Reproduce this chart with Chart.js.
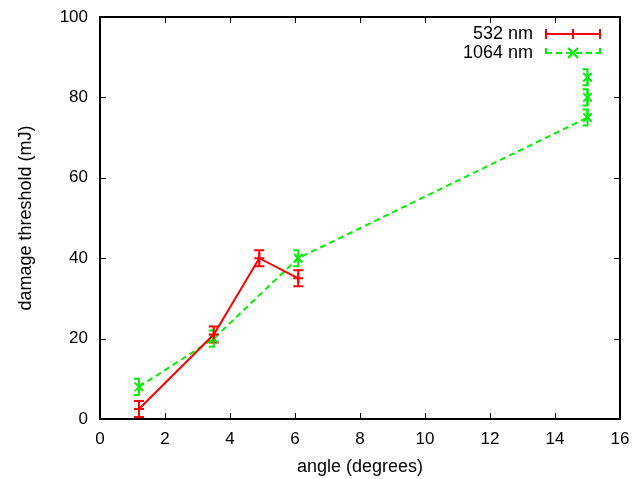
<!DOCTYPE html>
<html>
<head>
<meta charset="utf-8">
<script src="https://cdn.jsdelivr.net/npm/chart.js@4/dist/chart.umd.min.js"></script>
<style>
  body { margin: 0; background: #fff; }
  canvas { display: block; }
</style>
</head>
<body>
<canvas id="c" width="641" height="479"></canvas>
<script>
// data
var angles532 = [1.2, 3.5, 4.9, 6.1];
var thresh532 = [2.5, 21, 40, 35];
var err532 = [2, 2, 2, 2];

var angles1064 = [1.2, 3.5, 6.1, 15, 15, 15];
var thresh1064 = [8, 20, 40, 75, 80, 85];
var err1064 = [2, 2, 2, 2, 2, 2];

var xTicks = [0, 2, 4, 6, 8, 10, 12, 14, 16];
var yTicks = [0, 20, 40, 60, 80, 100];

var RED = 'rgb(255,0,0)';
var GREEN = 'rgb(0,238,0)';
var FONT = 'Liberation Sans, Arial, sans-serif';

function pts(xs, ys) {
    var out = [];
    for (var i = 0; i < xs.length; i++) out.push({ x: xs[i], y: ys[i] });
    return out;
}

// frame + inward ticks on all four sides (gnuplot style)
var framePlugin = {
    id: 'frame',
    afterDatasetsDraw: function(chart) {
        var ctx = chart.ctx, a = chart.chartArea;
        var xs = chart.scales.x, ys = chart.scales.y;
        ctx.save();
        ctx.strokeStyle = '#000';
        ctx.lineWidth = 1;
        xTicks.forEach(function(v) {
            var px = Math.round(xs.getPixelForValue(v)) + 0.5;
            ctx.beginPath();
            ctx.moveTo(px, a.bottom); ctx.lineTo(px, a.bottom - 6);
            ctx.moveTo(px, a.top); ctx.lineTo(px, a.top + 6);
            ctx.stroke();
        });
        yTicks.forEach(function(v) {
            var py = Math.round(ys.getPixelForValue(v)) + 0.5;
            ctx.beginPath();
            ctx.moveTo(a.left, py); ctx.lineTo(a.left + 6, py);
            ctx.moveTo(a.right, py); ctx.lineTo(a.right - 6, py);
            ctx.stroke();
        });
        ctx.lineWidth = 2;
        ctx.strokeRect(a.left, a.top, a.right - a.left, a.bottom - a.top);
        ctx.restore();
    }
};

// vertical error bars with caps
var errorPlugin = {
    id: 'errbars',
    beforeDatasetsDraw: function(chart) {
        var ctx = chart.ctx;
        var xs = chart.scales.x, ys = chart.scales.y;
        chart.data.datasets.forEach(function(ds) {
            ctx.save();
            ctx.strokeStyle = ds.borderColor;
            ctx.lineWidth = 2;
            ctx.setLineDash(ds.borderDash || []);
            ds.data.forEach(function(p, i) {
                var e = ds.errors[i];
                var px = xs.getPixelForValue(p.x);
                var lo = ys.getPixelForValue(p.y - e);
                var hi = ys.getPixelForValue(p.y + e);
                ctx.beginPath();
                ctx.moveTo(px, lo); ctx.lineTo(px, hi);
                ctx.moveTo(px - 5, lo); ctx.lineTo(px + 5, lo);
                ctx.moveTo(px - 5, hi); ctx.lineTo(px + 5, hi);
                ctx.stroke();
            });
            ctx.restore();
        });
    }
};

// legend inside top right
var legendPlugin = {
    id: 'keybox',
    afterDatasetsDraw: function(chart) {
        var ctx = chart.ctx;
        ctx.save();
        ctx.font = '18px ' + FONT;
        ctx.textAlign = 'right';
        ctx.textBaseline = 'middle';
        chart.data.datasets.forEach(function(ds, i) {
            var y = 34 + i * 19;
            ctx.fillStyle = '#000';
            ctx.fillText(ds.label, 533, y);
            ctx.strokeStyle = ds.borderColor;
            ctx.lineWidth = 2;
            ctx.setLineDash(ds.borderDash || []);
            ctx.beginPath();
            ctx.moveTo(546, y); ctx.lineTo(600, y);
            ctx.moveTo(546, y - 5); ctx.lineTo(546, y + 5);
            ctx.moveTo(600, y - 5); ctx.lineTo(600, y + 5);
            ctx.stroke();
            ctx.setLineDash([]);
            ctx.beginPath();
            var r = 5;
            if (ds.pointStyle === 'crossRot') {
                ctx.moveTo(573 - r, y - r); ctx.lineTo(573 + r, y + r);
                ctx.moveTo(573 - r, y + r); ctx.lineTo(573 + r, y - r);
            } else {
                ctx.moveTo(573 - r, y); ctx.lineTo(573 + r, y);
                ctx.moveTo(573, y - r); ctx.lineTo(573, y + r);
            }
            ctx.stroke();
        });
        ctx.restore();
    }
};

new Chart(document.getElementById('c'), {
    type: 'scatter',
    data: {
        datasets: [{
            label: '532 nm',
            data: pts(angles532, thresh532),
            errors: err532,
            showLine: true,
            borderColor: RED,
            backgroundColor: RED,
            borderWidth: 2,
            pointStyle: 'cross',
            pointRadius: 5,
            pointBorderWidth: 2
        }, {
            label: '1064 nm',
            data: pts(angles1064, thresh1064),
            errors: err1064,
            showLine: true,
            borderColor: GREEN,
            backgroundColor: GREEN,
            borderWidth: 2,
            borderDash: [6, 4],
            pointStyle: 'crossRot',
            pointRadius: 6,
            pointBorderWidth: 2
        }]
    },
    options: {
        responsive: false,
        animation: false,
        layout: { padding: { top: 17, right: 21, left: 0, bottom: 0 } },
        plugins: { legend: { display: false }, tooltip: { enabled: false } },
        scales: {
            x: {
                type: 'linear', min: 0, max: 16,
                afterBuildTicks: function(s) { s.ticks = xTicks.map(function(v) { return { value: v }; }); },
                afterFit: function(s) { s.height = 60; s.paddingLeft = 0; s.paddingRight = 0; },
                grid: { display: false, drawTicks: false },
                border: { display: false },
                ticks: { color: '#000', font: { family: FONT, size: 17 }, padding: 10, maxRotation: 0 },
                title: { display: true, text: 'angle (degrees)', color: '#000', font: { family: FONT, size: 18 }, padding: { top: 0, bottom: 1 } }
            },
            y: {
                type: 'linear', min: 0, max: 100,
                afterBuildTicks: function(s) { s.ticks = yTicks.map(function(v) { return { value: v }; }); },
                afterFit: function(s) { s.width = 100; s.paddingTop = 0; s.paddingBottom = 0; },
                grid: { display: false, drawTicks: false },
                border: { display: false },
                ticks: { color: '#000', font: { family: FONT, size: 17 }, padding: 12 },
                title: { display: true, text: 'damage threshold (mJ)', color: '#000', font: { family: FONT, size: 18 }, padding: { top: 15, bottom: 0 } }
            }
        }
    },
    plugins: [errorPlugin, framePlugin, legendPlugin]
});
</script>
</body>
</html>
